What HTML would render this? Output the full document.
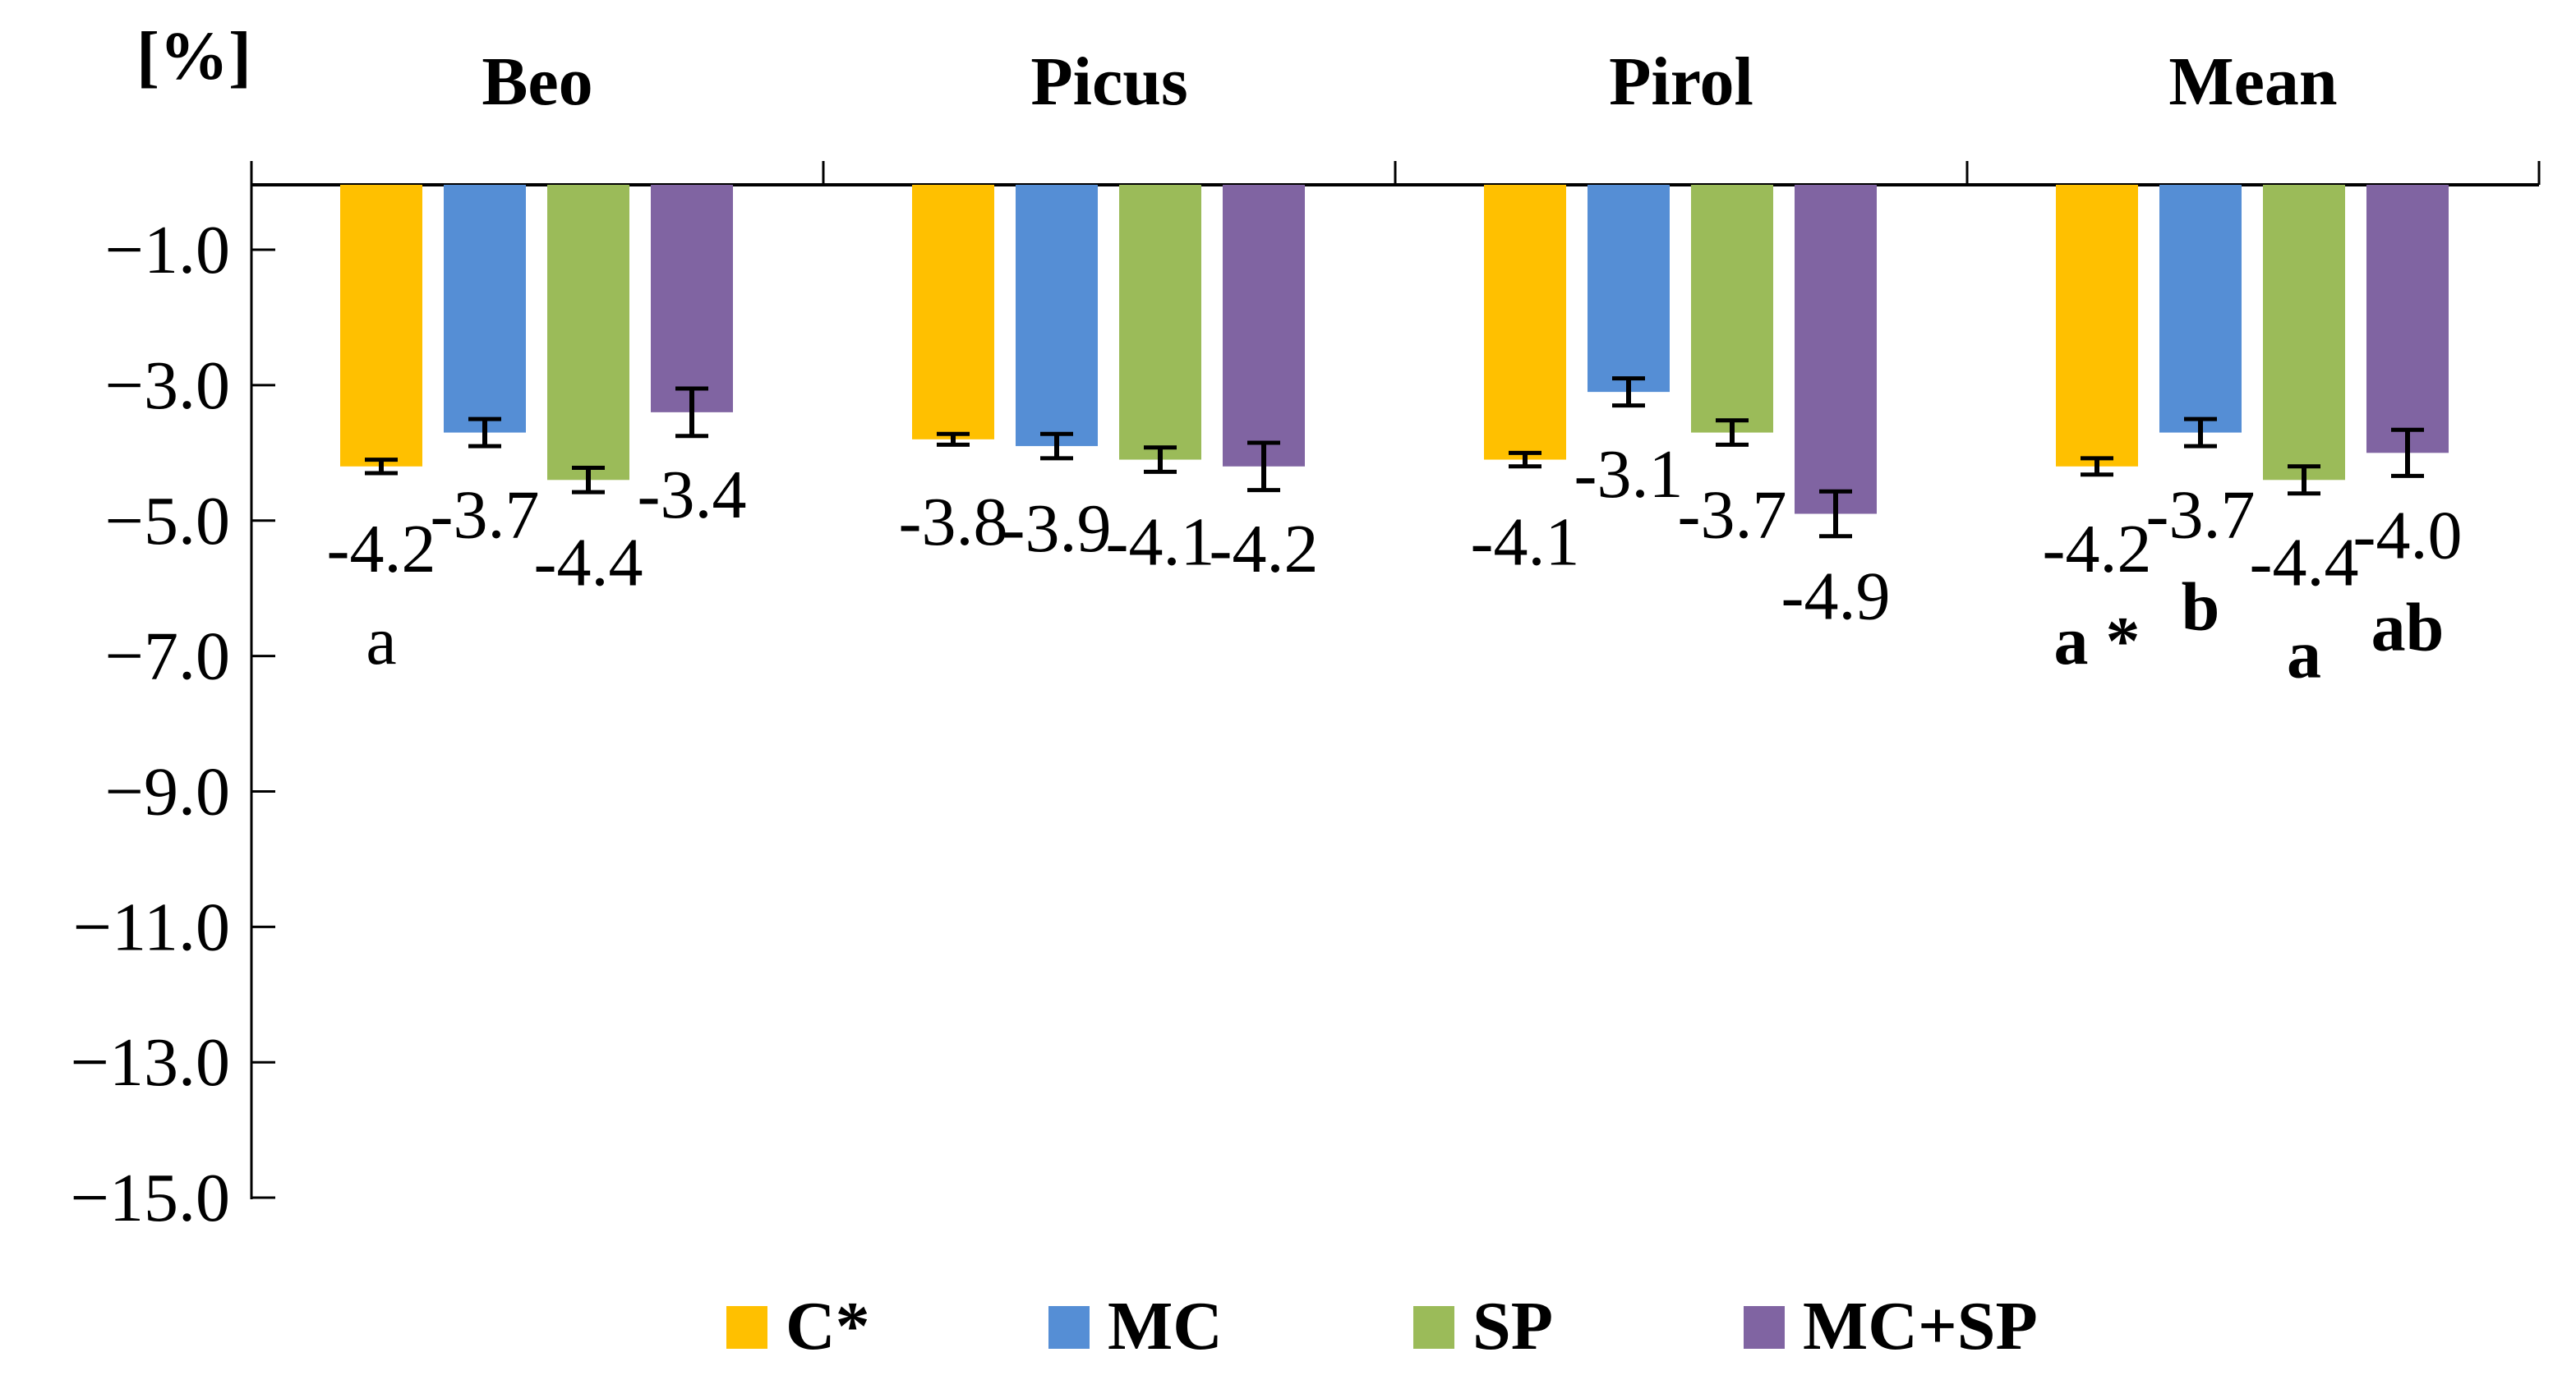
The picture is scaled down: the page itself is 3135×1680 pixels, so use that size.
<!DOCTYPE html>
<html><head><meta charset="utf-8">
<style>
html,body{margin:0;padding:0;background:#fff;}
svg{display:block;font-family:"Liberation Serif",serif;}
</style></head>
<body>
<svg id="chart" width="3135" height="1680" viewBox="0 0 3135 1680">
<g id="axes"></g>
<g id="bars"></g>
<g id="labels"></g>
<g id="legend"></g>
</svg>
<script>
const groups = ["Beo", "Picus", "Pirol", "Mean"];
const seriesNames = ["C*", "MC", "SP", "MC+SP"];
const seriesColors = ["#FFC000", "#558ED5", "#9BBB59", "#8064A2"];
const valuesC = [-4.2, -3.8, -4.1, -4.2];
const valuesMC = [-3.7, -3.9, -3.1, -3.7];
const valuesSP = [-4.4, -4.1, -3.7, -4.4];
const valuesMCSP = [-3.4, -4.2, -4.9, -4.0];
const errC = [0.1, 0.08, 0.1, 0.12];
const errMC = [0.2, 0.18, 0.2, 0.2];
const errSP = [0.18, 0.18, 0.18, 0.2];
const errMCSP = [0.35, 0.35, 0.33, 0.34];
const letters = [["a", "", "", ""], ["", "", "", ""], ["", "", "", ""], ["a *", "b", "a", "ab"]];
const yTicks = [-1, -3, -5, -7, -9, -11, -13, -15];

const NS = "http://www.w3.org/2000/svg";
const series = [valuesC, valuesMC, valuesSP, valuesMCSP];
const errs = [errC, errMC, errSP, errMCSP];
const axisX = 306, plotRight = 3090;
const groupW = (plotRight - axisX) / groups.length;
function yScale(v) { return 221.6 - 82.43 * v; }
function xBar(g, s) { return axisX + g * groupW + 108 + s * 126; }
function mk(tag, attrs, parent, text) {
  const e = document.createElementNS(NS, tag);
  for (const k in attrs) e.setAttribute(k, attrs[k]);
  if (text !== undefined) e.textContent = text;
  parent.appendChild(e);
  return e;
}
const axes = document.getElementById("axes");
const bars = document.getElementById("bars");
const labels = document.getElementById("labels");
const legend = document.getElementById("legend");
const zeroY = 225;

for (let g = 0; g < groups.length; g++) {
  for (let s = 0; s < series.length; s++) {
    const v = series[s][g];
    const x = xBar(g, s);
    const y1 = yScale(v);
    const r = mk("rect", {x: x, y: zeroY, width: 100, height: y1 - zeroY, fill: seriesColors[s]}, bars);
    
    
    const e = errs[s][g];
    const cx = x + 50;
    const eg = mk("g", {stroke: "#000", fill: "none"}, bars);
    
    
    mk("line", {x1: cx, x2: cx, y1: yScale(v + e), y2: yScale(v - e), "stroke-width": 6}, eg);
    mk("line", {x1: cx - 20, x2: cx + 20, y1: yScale(v + e), y2: yScale(v + e), "stroke-width": 5}, eg);
    mk("line", {x1: cx - 20, x2: cx + 20, y1: yScale(v - e), y2: yScale(v - e), "stroke-width": 5}, eg);
    const t = mk("text", {x: cx, y: y1 + 128, "font-size": 84, "text-anchor": "middle", fill: "#000"}, labels, v.toFixed(1));
    
    
    const L = letters[g][s];
    if (L) {
      const lt = mk("text", {x: cx, y: y1 + 128 + 112, "font-size": 84, "text-anchor": "middle", fill: "#000", "font-weight": g === 3 ? "bold" : "normal"}, labels, L);
      
      
    }
  }
}

mk("line", {x1: axisX, x2: axisX, y1: 196, y2: yScale(-15) + 2, stroke: "#000", "stroke-width": 3}, axes);
mk("line", {x1: axisX, x2: plotRight, y1: zeroY, y2: zeroY, stroke: "#000", "stroke-width": 4}, axes);
for (let g = 1; g <= groups.length; g++) {
  const x = axisX + g * groupW;
  mk("line", {x1: x, x2: x, y1: 196, y2: zeroY, stroke: "#000", "stroke-width": 3}, axes);
}
for (let g = 0; g < groups.length; g++) {
  const t = mk("text", {x: axisX + g * groupW + groupW / 2, y: 127, "font-size": 84, "font-weight": "bold", "text-anchor": "middle"}, axes, groups[g]);
  
  
}
for (const v of yTicks) {
  const y = yScale(v);
  mk("line", {x1: axisX, x2: axisX + 29, y1: y, y2: y, stroke: "#000", "stroke-width": 3}, axes);
  const t = mk("text", {x: 280, y: y + 28, "font-size": 84, "text-anchor": "end"}, axes, "\u2212" + Math.abs(v).toFixed(1));
  
  
}
const unit = mk("text", {x: 236, y: 96, "font-size": 84, "font-weight": "bold", "text-anchor": "middle"}, axes, "[%]");



const legX = [884, 1276, 1720, 2122];
for (let s = 0; s < seriesNames.length; s++) {
  const g = mk("g", {}, legend);
  
  
  mk("rect", {x: legX[s], y: 1590, width: 50, height: 52, fill: seriesColors[s]}, g);
  mk("text", {x: legX[s] + 72, y: 1642, "font-size": 84, "font-weight": "bold"}, g, seriesNames[s]);
}
</script>
</body></html>
